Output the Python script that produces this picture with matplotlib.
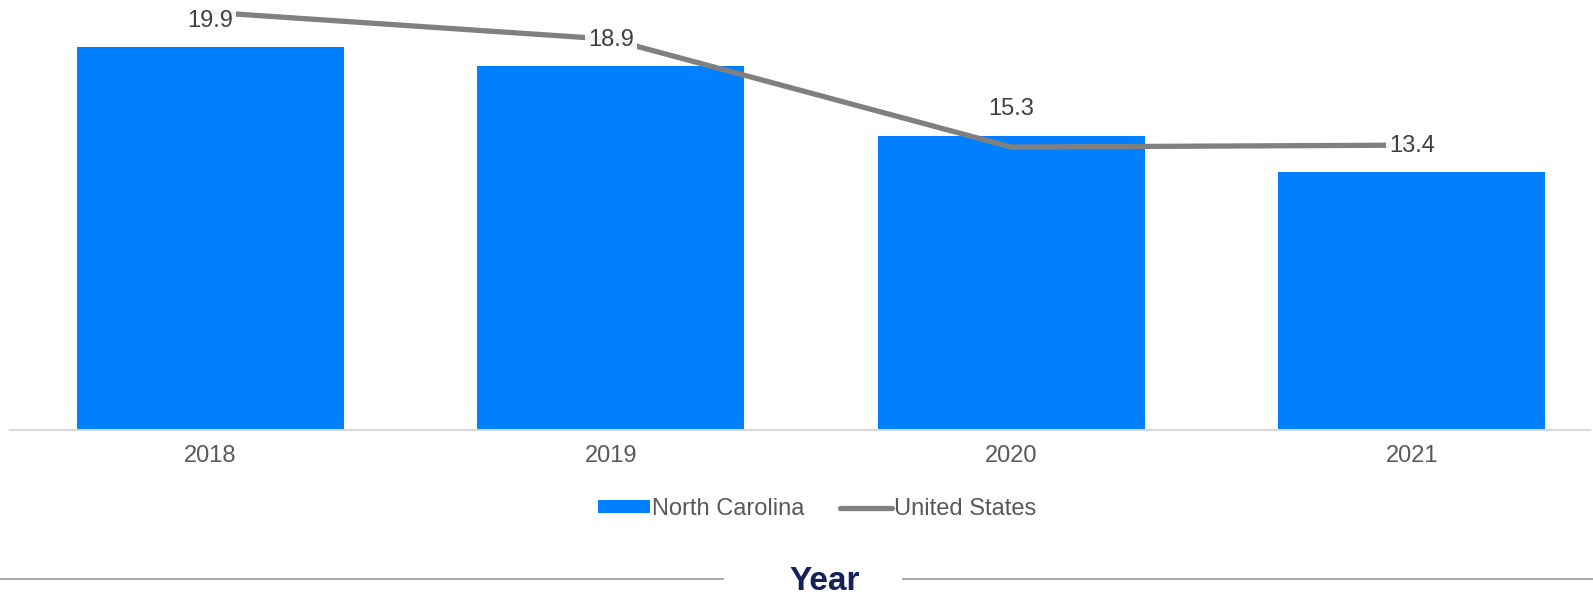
import matplotlib.pyplot as plt
from matplotlib.lines import Line2D
import numpy as np

plt.rcParams['font.family'] = ['Liberation Sans', 'DejaVu Sans']

# Data
years = ['2018', '2019', '2020', '2021']
nc_values = [19.9, 18.9, 15.3, 13.4]
us_values = [21.7, 20.3, 14.7, 14.8]

x = np.arange(len(years))

fig = plt.figure(figsize=(15.93, 5.99), dpi=100)
ax = fig.add_axes([10 / 1593, 169 / 599, 1580 / 1593, 430 / 599])

bar_h = ax.bar(x, nc_values, width=0.667, color='#007fff', label='North Carolina', zorder=2)
line_h, = ax.plot(x, us_values, color='#808080', linewidth=3.8, solid_capstyle='round',
                  solid_joinstyle='miter', label='United States', zorder=3)

# value labels above the bars
for xi, v in zip(x, nc_values):
    ax.annotate(f'{v:.1f}', (xi, v), xytext=(0, 19), textcoords='offset points',
                ha='center', va='center', fontsize=17, color='#404040', zorder=4,
                bbox=dict(boxstyle='square,pad=0.12', facecolor='white', edgecolor='none', alpha=0.9))

ax.set_xlim(-0.5, 3.445)
ax.set_ylim(0, 22.34)
ax.set_xticks(x)
ax.set_xticklabels(years, fontsize=17, color='#595959')
ax.tick_params(axis='x', length=0, pad=11)
ax.set_yticks([])
for side in ['left', 'right', 'top']:
    ax.spines[side].set_visible(False)
ax.spines['bottom'].set_color('#d9d9d9')
ax.spines['bottom'].set_linewidth(1.5)

leg = fig.legend([bar_h, line_h], ['North Carolina', 'United States'],
                 loc='center', bbox_to_anchor=(0.513, 0.150), ncol=2, frameon=False,
                 fontsize=17, handlelength=2.2, handletextpad=0.1, columnspacing=1.5,
                 handleheight=0.45)
for t in leg.get_texts():
    t.set_color('#595959')

# axis title with rules on either side
fig.text(0.518, 0.03, 'Year', ha='center', va='center', fontsize=24,
         fontweight='bold', color='#14215a')
fig.add_artist(Line2D([0, 723 / 1593], [0.033, 0.033], color='#a0a0a0', linewidth=1.3))
fig.add_artist(Line2D([903 / 1593, 1.0], [0.033, 0.033], color='#a0a0a0', linewidth=1.3))

fig.savefig('out.png', dpi=100)
